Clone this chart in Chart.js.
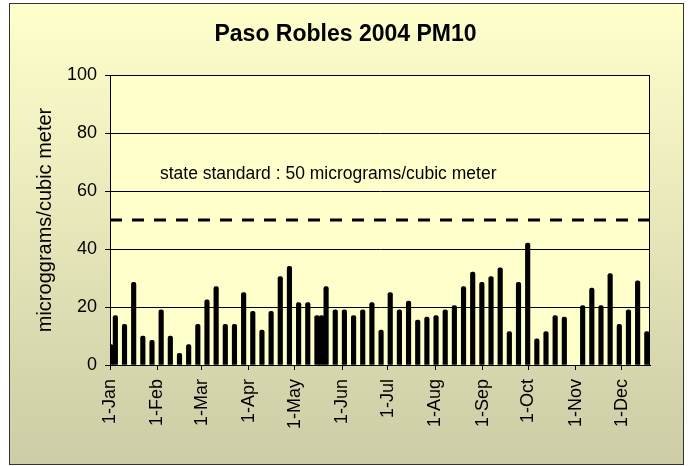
<!DOCTYPE html>
<html>
<head>
<meta charset="utf-8">
<title>Paso Robles 2004 PM10</title>
<script src="https://cdn.jsdelivr.net/npm/chart.js@4.4.1/dist/chart.umd.min.js"></script>
<style>
    html, body { margin: 0; padding: 0; background: #fff; }
    canvas { display: block; }
</style>
</head>
<body>
<canvas id="pm10-chart" width="691" height="466"></canvas>
<script>
// Sample dates (1-in-6 day schedule, plus extra samples)
const sampleDates = [
    '2004-01-01', '2004-01-04', '2004-01-10', '2004-01-16', '2004-01-22', '2004-01-28',
    '2004-02-03', '2004-02-09', '2004-02-15', '2004-02-21', '2004-02-27',
    '2004-03-04', '2004-03-10', '2004-03-16', '2004-03-22', '2004-03-28',
    '2004-04-03', '2004-04-09', '2004-04-15', '2004-04-21', '2004-04-27',
    '2004-05-03', '2004-05-09', '2004-05-15', '2004-05-18', '2004-05-21', '2004-05-27',
    '2004-06-02', '2004-06-08', '2004-06-14', '2004-06-20', '2004-06-26',
    '2004-07-02', '2004-07-08', '2004-07-14', '2004-07-20', '2004-07-26',
    '2004-08-01', '2004-08-07', '2004-08-13', '2004-08-19', '2004-08-25', '2004-08-31',
    '2004-09-06', '2004-09-12', '2004-09-18', '2004-09-24', '2004-09-30',
    '2004-10-06', '2004-10-12', '2004-10-18', '2004-10-24',
    '2004-11-05', '2004-11-11', '2004-11-17', '2004-11-23', '2004-11-29',
    '2004-12-05', '2004-12-11', '2004-12-17'
];

// PM10 values (micrograms/cubic meter)
const pm10Values = [
    7, 17, 14, 28.5, 10, 8.5,
    19, 10, 4, 7, 14,
    22.5, 27, 14, 14, 25,
    18.5, 12, 18.5, 30.5, 34,
    21.5, 21.5, 17, 17, 27, 19,
    19, 17, 19, 21.5, 12,
    25, 19, 22, 15.5, 16.5,
    17, 19, 20.5, 27, 32, 28.5,
    30.5, 33.5, 11.5, 28.5, 42,
    9, 11.5, 17, 16.5,
    20.5, 26.5, 20.5, 31.5, 14,
    19, 29, 11.5
];

// Tick labels of the date axis
const monthStarts = [
    '2004-01-01', '2004-02-01', '2004-03-01', '2004-04-01', '2004-05-01', '2004-06-01',
    '2004-07-01', '2004-08-01', '2004-09-01', '2004-10-01', '2004-11-01', '2004-12-01'
];
const monthLabels = [
    '1-Jan', '1-Feb', '1-Mar', '1-Apr', '1-May', '1-Jun',
    '1-Jul', '1-Aug', '1-Sep', '1-Oct', '1-Nov', '1-Dec'
];
const yTicks = [0, 20, 40, 60, 80, 100];

const stateStandard = 50;
const standardLabel = 'state standard : 50 micrograms/cubic meter';

const FONT = 'Arial, "Liberation Sans", sans-serif';

// day offset from 1 Jan
function dayOfYear(s) {
    const [y, m, d] = s.split('-').map(Number);
    return (Date.UTC(y, m - 1, d) - Date.UTC(y, 0, 1)) / 86400000;
}

const AXIS_END = 353.6;

const barData = sampleDates.map((d, i) => ({ x: dayOfYear(d) + 0.5, y: pm10Values[i] }));
const tickValues = monthStarts.map(dayOfYear);

// Frame, gradient and plot area
const framePlugin = {
    id: 'frame',
    beforeDraw(chart) {
        const { ctx, chartArea: a, width, height } = chart;
        ctx.save();
        ctx.fillStyle = '#fff';
        ctx.fillRect(0, 0, width, height);
        const g = ctx.createLinearGradient(0, 3, 0, 465);
        g.addColorStop(0, '#FFFFCC');
        g.addColorStop(1, '#CCCCA6');
        ctx.fillStyle = g;
        ctx.fillRect(9.5, 3.5, 674, 461);
        ctx.strokeStyle = '#333';
        ctx.lineWidth = 1;
        ctx.strokeRect(9.5, 3.5, 674, 461);
        ctx.fillStyle = '#FFFFCC';
        ctx.fillRect(a.left, a.top, a.right - a.left, a.bottom - a.top);
        ctx.restore();
    },
    afterDraw(chart) {
        const { ctx, chartArea: a } = chart;
        ctx.save();
        ctx.strokeStyle = '#000';
        ctx.lineWidth = 1;
        ctx.strokeRect(a.left + 0.5, a.top + 0.5, a.right - a.left - 1, a.bottom - a.top);
        ctx.restore();
    }
};

// Text of the state standard
const standardTextPlugin = {
    id: 'standardText',
    afterDatasetsDraw(chart) {
        const { ctx, scales: { x, y } } = chart;
        ctx.save();
        ctx.font = '17.5px ' + FONT;
        ctx.fillStyle = '#000';
        ctx.textBaseline = 'alphabetic';
        ctx.textAlign = 'left';
        ctx.fillText(standardLabel, x.getPixelForValue(32.7), y.getPixelForValue(64));
        ctx.restore();
    }
};

Chart.defaults.font.family = FONT;
Chart.defaults.color = '#000';

const chart = new Chart(document.getElementById('pm10-chart').getContext('2d'), {
    type: 'bar',
    data: {
        datasets: [{
            type: 'bar',
            label: 'PM10',
            data: barData,
            backgroundColor: '#000',
            barThickness: 4.5,
            borderRadius: 2,
            borderSkipped: 'start',
            order: 2
        }, {
            type: 'line',
            label: 'state standard',
            data: [{ x: 0, y: stateStandard }, { x: AXIS_END, y: stateStandard }],
            borderColor: '#000',
            borderWidth: 3,
            borderDash: [12, 10],
            pointRadius: 0,
            fill: false,
            order: 1
        }]
    },
    plugins: [framePlugin, standardTextPlugin],
    options: {
        responsive: false,
        animation: false,
        devicePixelRatio: 1,
        layout: { padding: 0 },
        plugins: {
            legend: { display: false },
            tooltip: { enabled: false },
            title: {
                display: true,
                text: 'Paso Robles 2004 PM10',
                color: '#000',
                font: { size: 23, weight: 'bold' },
                padding: { top: 21, bottom: 26.4 }
            }
        },
        scales: {
            x: {
                type: 'linear',
                offset: false,
                min: 0,
                max: AXIS_END,
                afterBuildTicks: axis => { axis.ticks = tickValues.map(v => ({ value: v })); },
                afterFit: s => { s.height = 101; },
                ticks: {
                    autoSkip: false,
                    minRotation: 90,
                    maxRotation: 90,
                    padding: 9,
                    font: { size: 18 },
                    callback: (v, i) => monthLabels[i]
                },
                grid: { drawOnChartArea: false, offset: false, color: '#000', tickLength: 5 },
                border: { color: '#000', width: 1 }
            },
            y: {
                min: 0,
                max: 100,
                afterBuildTicks: axis => { axis.ticks = yTicks.map(v => ({ value: v })); },
                afterFit: s => { s.width = 110; },
                ticks: { padding: 8, font: { size: 18 } },
                grid: { color: '#000', lineWidth: 1, tickLength: 5 },
                border: { color: '#000', width: 1 },
                title: {
                    display: true,
                    text: 'microggrams/cubic meter',
                    font: { size: 20 },
                    padding: { top: 33, bottom: 0 }
                }
            },
            // empty right margin so the title centres on the whole frame
            yRight: {
                position: 'right',
                min: 0,
                max: 100,
                afterFit: s => { s.width = 41; },
                ticks: { display: false },
                grid: { display: false },
                border: { display: false }
            }
        }
    }
});
</script>
</body>
</html>
